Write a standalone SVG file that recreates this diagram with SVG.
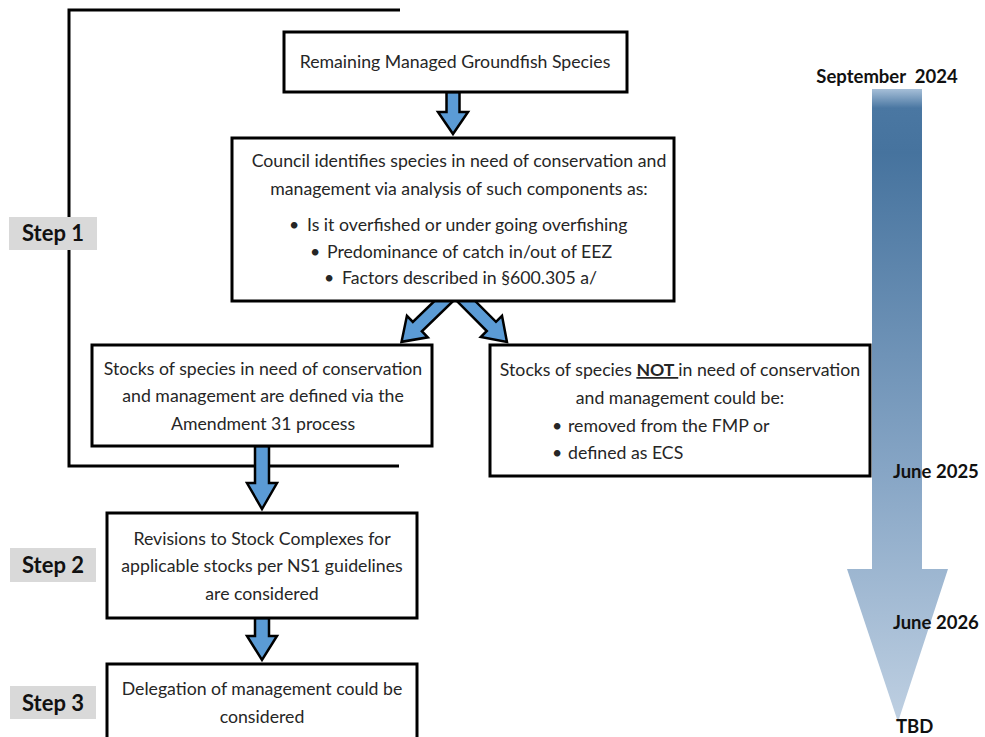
<svg xmlns="http://www.w3.org/2000/svg" width="985" height="737" viewBox="0 0 985 737">
<defs>
<style>
.box{fill:#fff;stroke:#000;stroke-width:3}
.arr{fill:#5b9bd5;stroke:#000;stroke-width:2.5;stroke-linejoin:miter}
.t{font-family:Lato,"Open Sans",sans-serif;font-size:17.7px;fill:#262626}
.c{text-anchor:middle}
.step{fill:#d9d9d9}
.st{font-family:Lato,"Open Sans",sans-serif;font-weight:bold;font-size:22px;fill:#111;text-anchor:middle}
.tl{font-family:Lato,"Open Sans",sans-serif;font-weight:bold;font-size:18.5px;fill:#111}
.br{fill:none;stroke:#000;stroke-width:3}
</style>
<linearGradient id="tg" gradientUnits="userSpaceOnUse" x1="0" y1="89" x2="0" y2="724">
<stop offset="0" stop-color="#a6bfd8"/>
<stop offset="0.03" stop-color="#4a77a2"/>
<stop offset="0.1" stop-color="#46739e"/>
<stop offset="0.6" stop-color="#86a5c5"/>
<stop offset="1" stop-color="#bfd0e2"/>
</linearGradient>
</defs>
<rect width="985" height="737" fill="#fff"/>

<g id="timeline">
<path d="M872,89 H922 V569 H948 L898,722 L847,569 H872 Z" fill="url(#tg)"/>
<text class="tl" x="887" y="83" text-anchor="middle" xml:space="preserve">September  2024</text>
<text class="tl" x="893" y="478">June 2025</text>
<text class="tl" x="893" y="629">June 2026</text>
<text class="tl" x="896" y="733">TBD</text>
</g>

<g id="bracket">
<path class="br" d="M400,10 H69 V466 H399"/>
</g>

<g id="connectors">
<path class="arr" transform="translate(453,92)" d="M-6.5,0 H6.5 V20 H15 L0,42 L-15,20 H-6.5 Z"/>
<path class="arr" transform="translate(449,296) rotate(46)" d="M-6.5,0 H6.5 V44 H15 L0,66 L-15,44 H-6.5 Z"/>
<path class="arr" transform="translate(461,296) rotate(-45)" d="M-6.5,0 H6.5 V43 H15 L0,65 L-15,43 H-6.5 Z"/>
<path class="arr" transform="translate(262,446)" d="M-7,0 H7 V37 H15 L0,63 L-15,37 H-7 Z"/>
<path class="arr" transform="translate(262,618)" d="M-7,0 H7 V18 H15 L0,42 L-15,18 H-7 Z"/>
</g>

<g id="step1"><rect class="step" x="9" y="217" width="88" height="33"/><text class="st" x="53" y="241">Step 1</text></g>
<g id="step2"><rect class="step" x="10" y="548" width="86" height="34"/><text class="st" x="53" y="573">Step 2</text></g>
<g id="step3"><rect class="step" x="10" y="686" width="86" height="33"/><text class="st" x="53" y="711">Step 3</text></g>

<g id="n1">
<rect class="box" x="284" y="32" width="343" height="60"/>
<text class="t c" x="455" y="68">Remaining Managed Groundfish Species</text>
</g>

<g id="n2">
<rect class="box" x="232" y="138" width="442" height="163"/>
<text class="t c" x="459" y="167">Council identifies species in need of conservation and</text>
<text class="t c" x="459" y="195">management via analysis of such components as:</text>
<text class="t" x="289" y="231">•</text><text class="t" x="307" y="231">Is it overfished or under going overfishing</text>
<text class="t" x="310" y="258">•</text><text class="t" x="327" y="258">Predominance of catch in/out of EEZ</text>
<text class="t" x="324" y="284">•</text><text class="t" x="342" y="284">Factors described in §600.305 a/</text>
</g>

<g id="n3">
<rect class="box" x="92" y="345" width="340" height="101"/>
<text class="t c" x="263" y="375">Stocks of species in need of conservation</text>
<text class="t c" x="263" y="402">and management are defined via the</text>
<text class="t c" x="263" y="430">Amendment 31 process</text>
</g>

<g id="n4">
<rect class="box" x="490" y="345" width="380" height="131"/>
<text class="t c" x="680" y="376">Stocks of species <tspan font-weight="bold" text-decoration="underline">NOT </tspan>in need of conservation</text>
<text class="t c" x="680" y="404">and management could be:</text>
<text class="t" x="552" y="432">•</text><text class="t" x="568" y="432">removed from the FMP or</text>
<text class="t" x="552" y="459">•</text><text class="t" x="568" y="459">defined as ECS</text>
</g>

<g id="n5">
<rect class="box" x="107" y="513" width="310" height="105"/>
<text class="t c" x="262" y="545">Revisions to Stock Complexes for</text>
<text class="t c" x="262" y="572">applicable stocks per NS1 guidelines</text>
<text class="t c" x="262" y="600">are considered</text>
</g>

<g id="n6">
<rect class="box" x="107" y="664" width="310" height="80"/>
<text class="t c" x="262" y="695">Delegation of management could be</text>
<text class="t c" x="262" y="723">considered</text>
</g>
</svg>
